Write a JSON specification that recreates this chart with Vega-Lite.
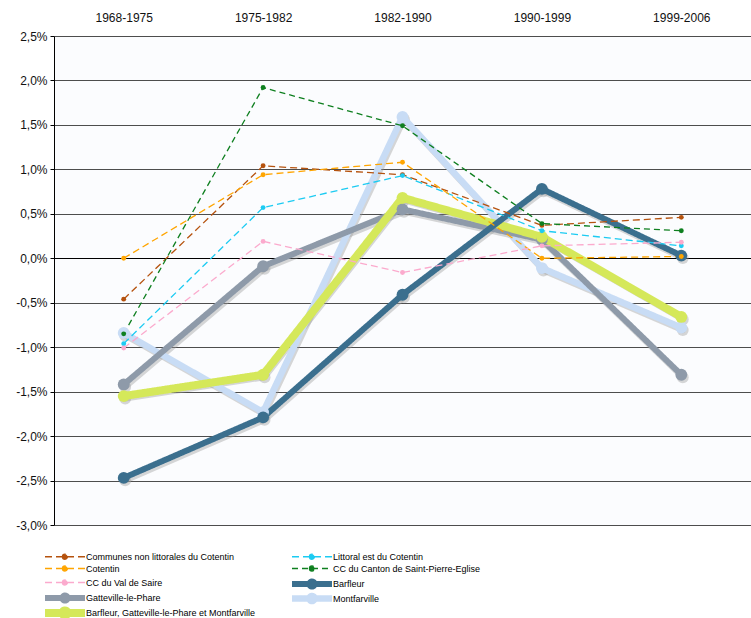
{
  "$schema": "https://vega.github.io/schema/vega-lite/v6.json",
  "width": 697,
  "height": 489,
  "autosize": {"type": "none"},
  "padding": {"left": 54, "top": 36, "right": 0, "bottom": 93},
  "background": "#ffffff",
  "config": {
    "view": {"stroke": null, "fill": "#fbfcfe"},
    "font": "Liberation Sans",
    "axis": {"labelFont": "Liberation Sans", "labelColor": "#111111"}
  },
  "data": {
    "values": [
      {"series": "Montfarville", "period": "1968-1975", "value": -0.84},
      {"series": "Montfarville", "period": "1975-1982", "value": -1.73},
      {"series": "Montfarville", "period": "1982-1990", "value": 1.59},
      {"series": "Montfarville", "period": "1990-1999", "value": -0.11},
      {"series": "Montfarville", "period": "1999-2006", "value": -0.78},
      {"series": "Gatteville-le-Phare", "period": "1968-1975", "value": -1.42},
      {"series": "Gatteville-le-Phare", "period": "1975-1982", "value": -0.09},
      {"series": "Gatteville-le-Phare", "period": "1982-1990", "value": 0.55},
      {"series": "Gatteville-le-Phare", "period": "1990-1999", "value": 0.21},
      {"series": "Gatteville-le-Phare", "period": "1999-2006", "value": -1.31},
      {"series": "Barfleur, Gatteville-le-Phare et Montfarville", "period": "1968-1975", "value": -1.55},
      {"series": "Barfleur, Gatteville-le-Phare et Montfarville", "period": "1975-1982", "value": -1.31},
      {"series": "Barfleur, Gatteville-le-Phare et Montfarville", "period": "1982-1990", "value": 0.68},
      {"series": "Barfleur, Gatteville-le-Phare et Montfarville", "period": "1990-1999", "value": 0.24},
      {"series": "Barfleur, Gatteville-le-Phare et Montfarville", "period": "1999-2006", "value": -0.66},
      {"series": "Barfleur", "period": "1968-1975", "value": -2.47},
      {"series": "Barfleur", "period": "1975-1982", "value": -1.79},
      {"series": "Barfleur", "period": "1982-1990", "value": -0.41},
      {"series": "Barfleur", "period": "1990-1999", "value": 0.78},
      {"series": "Barfleur", "period": "1999-2006", "value": 0.03},
      {"series": "Communes non littorales du Cotentin", "period": "1968-1975", "value": -0.46},
      {"series": "Communes non littorales du Cotentin", "period": "1975-1982", "value": 1.04},
      {"series": "Communes non littorales du Cotentin", "period": "1982-1990", "value": 0.94},
      {"series": "Communes non littorales du Cotentin", "period": "1990-1999", "value": 0.37},
      {"series": "Communes non littorales du Cotentin", "period": "1999-2006", "value": 0.46},
      {"series": "Littoral est du Cotentin", "period": "1968-1975", "value": -0.96},
      {"series": "Littoral est du Cotentin", "period": "1975-1982", "value": 0.57},
      {"series": "Littoral est du Cotentin", "period": "1982-1990", "value": 0.93},
      {"series": "Littoral est du Cotentin", "period": "1990-1999", "value": 0.31},
      {"series": "Littoral est du Cotentin", "period": "1999-2006", "value": 0.14},
      {"series": "Cotentin", "period": "1968-1975", "value": 0.0},
      {"series": "Cotentin", "period": "1975-1982", "value": 0.94},
      {"series": "Cotentin", "period": "1982-1990", "value": 1.08},
      {"series": "Cotentin", "period": "1990-1999", "value": 0.0},
      {"series": "Cotentin", "period": "1999-2006", "value": 0.02},
      {"series": "CC du Canton de Saint-Pierre-Eglise", "period": "1968-1975", "value": -0.85},
      {"series": "CC du Canton de Saint-Pierre-Eglise", "period": "1975-1982", "value": 1.92},
      {"series": "CC du Canton de Saint-Pierre-Eglise", "period": "1982-1990", "value": 1.49},
      {"series": "CC du Canton de Saint-Pierre-Eglise", "period": "1990-1999", "value": 0.39},
      {"series": "CC du Canton de Saint-Pierre-Eglise", "period": "1999-2006", "value": 0.31},
      {"series": "CC du Val de Saire", "period": "1968-1975", "value": -1.01},
      {"series": "CC du Val de Saire", "period": "1975-1982", "value": 0.19},
      {"series": "CC du Val de Saire", "period": "1982-1990", "value": -0.16},
      {"series": "CC du Val de Saire", "period": "1990-1999", "value": 0.14},
      {"series": "CC du Val de Saire", "period": "1999-2006", "value": 0.18}
    ]
  },
  "encoding": {
    "x": {
      "field": "period",
      "type": "ordinal",
      "sort": ["1968-1975", "1975-1982", "1982-1990", "1990-1999", "1999-2006"],
      "scale": {"type": "point", "padding": 0.5},
      "axis": {
        "orient": "top",
        "title": null,
        "domain": false,
        "ticks": false,
        "grid": false,
        "labelAngle": 0,
        "labelFontSize": 12,
        "labelPadding": 12
      }
    },
    "y": {
      "field": "value",
      "type": "quantitative",
      "scale": {"domain": [-3, 2.5], "nice": false, "zero": false},
      "axis": {
        "title": null,
        "values": [-3, -2.5, -2, -1.5, -1, -0.5, 0, 0.5, 1, 1.5, 2, 2.5],
        "labelExpr": "replace(replace(format(datum.value, '.1f'), '.', ','), '\u2212', '-') + '%'",
        "labelFontSize": 12,
        "labelPadding": 3,
        "tickSize": 4,
        "tickColor": "#000000",
        "domainColor": "#000000",
        "grid": true,
        "gridColor": {"condition": {"test": "datum.value === 0", "value": "#000000"}, "value": "#4d4d4d"},
        "gridWidth": 1,
        "gridOpacity": 1
      }
    },
    "color": {
      "field": "series",
      "type": "nominal",
      "scale": {
        "domain": [
          "Communes non littorales du Cotentin",
          "Cotentin",
          "CC du Val de Saire",
          "Gatteville-le-Phare",
          "Barfleur, Gatteville-le-Phare et Montfarville",
          "Littoral est du Cotentin",
          "CC du Canton de Saint-Pierre-Eglise",
          "Barfleur",
          "Montfarville"
        ],
        "range": ["#b5520e", "#ffa500", "#fbaacd", "#8e9aa9", "#d5e85a", "#1ccbf2", "#0e7f1f", "#3b6f8e", "#c8dcf5"]
      },
      "legend": {
        "orient": "none",
        "legendX": 4,
        "legendY": 514,
        "columns": 2,
        "columnPadding": 32,
        "rowPadding": -7,
        "gridAlign": "all",
        "title": null,
        "symbolType": "M-6.67,0L6.67,0M-0.85,0a0.85,0.85 0 1,0 1.7,0a0.85,0.85 0 1,0 -1.7,0",
        "symbolSize": 36,
        "labelFont": "Liberation Sans",
        "labelFontSize": 9,
        "labelColor": "#000000",
        "labelOffset": 14,
        "labelLimit": 400,
        "encode": {
          "symbols": {
            "update": {
              "fill": {"scale": "color", "field": "value"},
              "strokeWidth": {"scale": "strokeWidth", "field": "value"},
              "strokeJoin": {"value": "round"},
              "strokeCap": {"value": "butt"}
            }
          }
        }
      }
    }
  },
  "layer": [
    {
      "transform": [{"filter": {"field": "series", "oneOf": ["Barfleur", "Gatteville-le-Phare", "Montfarville", "Barfleur, Gatteville-le-Phare et Montfarville"]}}],
      "mark": {"type": "line", "opacity": 0.4, "xOffset": 1.5, "yOffset": 2.5, "strokeCap": "round", "strokeJoin": "round", "strokeWidth": 6},
      "encoding": {
        "color": {"value": "#9a9a9a"},
        "detail": {"field": "series", "type": "nominal"}
      }
    },
    {
      "transform": [{"filter": {"field": "series", "oneOf": ["Barfleur", "Gatteville-le-Phare", "Montfarville", "Barfleur, Gatteville-le-Phare et Montfarville"]}}],
      "mark": {"type": "point", "filled": true, "opacity": 0.4, "xOffset": 1.5, "yOffset": 2.5, "size": 140},
      "encoding": {
        "color": {"value": "#9a9a9a"},
        "detail": {"field": "series", "type": "nominal"}
      }
    },
    {
      "mark": {"type": "line", "strokeJoin": "round"},
      "encoding": {
        "strokeDash": {
          "field": "series",
          "type": "nominal",
          "scale": {
            "domain": [
              "Communes non littorales du Cotentin",
              "Cotentin",
              "CC du Val de Saire",
              "Gatteville-le-Phare",
              "Barfleur, Gatteville-le-Phare et Montfarville",
              "Littoral est du Cotentin",
              "CC du Canton de Saint-Pierre-Eglise",
              "Barfleur",
              "Montfarville"
            ],
            "range": [[7, 4], [7, 4], [7, 4], [1, 0], [1, 0], [7, 4], [6, 4], [1, 0], [1, 0]]
          }
        },
        "strokeWidth": {
          "field": "series",
          "type": "nominal",
          "legend": null,
          "scale": {
            "type": "ordinal",
            "domain": [
              "Communes non littorales du Cotentin",
              "Cotentin",
              "CC du Val de Saire",
              "Gatteville-le-Phare",
              "Barfleur, Gatteville-le-Phare et Montfarville",
              "Littoral est du Cotentin",
              "CC du Canton de Saint-Pierre-Eglise",
              "Barfleur",
              "Montfarville"
            ],
            "range": [1.3, 1.3, 1.3, 6, 8, 1.3, 1.3, 6, 6.5]
          }
        }
      }
    },
    {
      "transform": [{"filter": {"field": "series", "oneOf": ["Barfleur", "Gatteville-le-Phare", "Montfarville", "Barfleur, Gatteville-le-Phare et Montfarville"]}}],
      "mark": {"type": "point", "filled": true, "opacity": 1, "size": 140}
    },
    {
      "transform": [{"filter": {"field": "series", "oneOf": ["Communes non littorales du Cotentin", "Littoral est du Cotentin", "Cotentin", "CC du Canton de Saint-Pierre-Eglise", "CC du Val de Saire"]}}],
      "mark": {"type": "point", "filled": true, "opacity": 1, "size": 24}
    }
  ]
}
